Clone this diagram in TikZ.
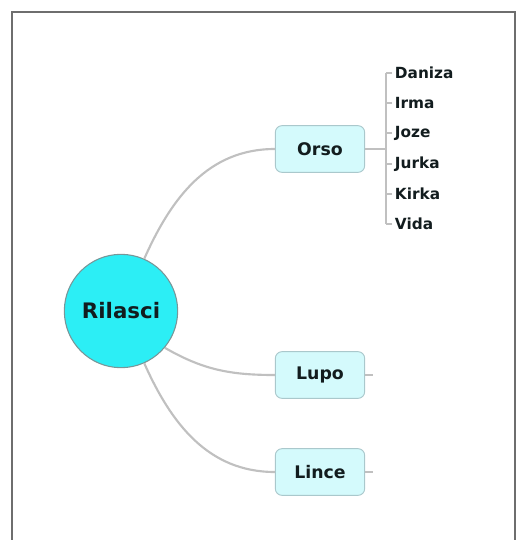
\documentclass[tikz,border=0pt]{standalone}
\usepackage{fontspec}
\setmainfont{DejaVu Sans}
\usetikzlibrary{positioning}
\definecolor{RootCyan}{RGB}{44, 238, 245}
\definecolor{RootEdge}{RGB}{120, 150, 152}
\definecolor{TopicFill}{RGB}{212, 250, 252}
\definecolor{TopicEdge}{RGB}{170, 200, 204}
\definecolor{LinkGray}{RGB}{192, 192, 192}
\definecolor{FrameGray}{RGB}{110, 110, 110}
\definecolor{InkDark}{RGB}{18, 28, 30}
\tikzset{
    rootnode/.style={circle, draw=RootEdge, line width=0.8pt, fill=RootCyan, minimum size=85pt,
        font=\fontsize{16}{19}\selectfont\bfseries, text=InkDark},
    topicnode/.style={rectangle, rounded corners=5pt, draw=TopicEdge, line width=0.7pt, fill=TopicFill,
        minimum width=67pt, minimum height=35pt, font=\fontsize{13}{15}\selectfont\bfseries, text=InkDark},
    leafnode/.style={anchor=west, inner sep=2pt, font=\fontsize{11.5}{13}\selectfont\bfseries, text=InkDark},
    branch/.style={draw=LinkGray, line width=1.6pt},
    twig/.style={draw=LinkGray, line width=0.8pt}
}

\begin{document}
\begin{tikzpicture}[x=0.75pt, y=-0.75pt]
            \useasboundingbox (0,0) rectangle (518,540);
            \draw[FrameGray, line width=1.5pt] (12,540) -- (12,12) -- (515,12) -- (515,540);

            \node[rootnode] (Rilasci) at (121,311) {Rilasci};
            \node[topicnode] (Orso) at (320,149) {Orso};
            \node[topicnode] (Lupo) at (320,375) {Lupo};
            \node[topicnode] (Lince) at (320,472) {Lince};

            \draw[branch] (Rilasci.66) to[out=66, in=180] (Orso.west);
            \draw[branch] (Rilasci.-40) to[out=-30, in=180] (Lupo.west);
            \draw[branch] (Rilasci.-66) to[out=-66, in=180] (Lince.west);

            \coordinate (spine) at (386,149);
            \coordinate (lupoTail) at (373,375);
            \coordinate (linceTail) at (373,472);
            \draw[twig] (Orso.east) -- (spine);
            \draw[twig] (Lupo.east) -- (lupoTail);
            \draw[twig] (Lince.east) -- (linceTail);

            \foreach \leaf/\ypos in {Daniza/73, Irma/103, Joze/133, Jurka/164, Kirka/194, Vida/224} {
                \node[leafnode] (\leaf) at (392,\ypos) {\leaf};
                \draw[twig] (\leaf.west) -- (\leaf.west -| spine);
            }
            \draw[twig] (Daniza.west -| spine) -- (Vida.west -| spine);
        \end{tikzpicture}
\end{document}
